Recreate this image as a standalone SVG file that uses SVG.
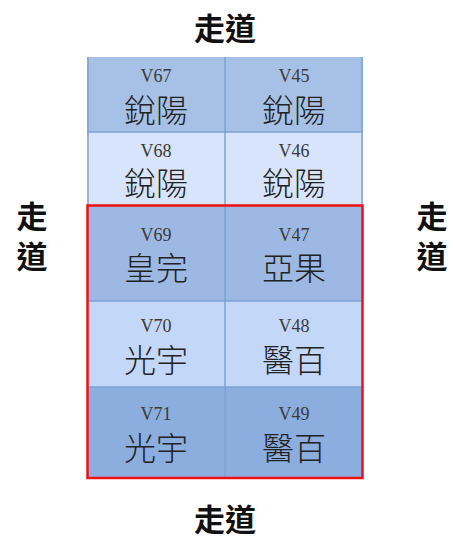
<svg xmlns="http://www.w3.org/2000/svg" width="453" height="540" viewBox="0 0 453 540">
<style>
.lbl{font-family:"Liberation Serif","Noto Sans CJK TC",serif;font-size:18px;fill:#3a3a3a;text-anchor:middle}
.nm{font-family:"Noto Sans CJK TC",sans-serif;font-size:32px;fill:#222;text-anchor:middle;font-weight:300}
.aisle{font-family:"Noto Sans CJK TC",sans-serif;font-size:31px;fill:#111;text-anchor:middle;font-weight:bold}
.sep{stroke:#7ea2d4;stroke-width:1.5}
</style>
<rect width="453" height="540" fill="#fff"/>
<g id="aisle-top"><text class="aisle" x="225" y="40">走道</text></g>
<g id="aisle-bottom"><text class="aisle" x="225" y="531">走道</text></g>
<g id="aisle-left"><text class="aisle" x="32" y="228">走</text><text class="aisle" x="32" y="268">道</text></g>
<g id="aisle-right"><text class="aisle" x="432" y="228">走</text><text class="aisle" x="432" y="268">道</text></g>
<g id="rows">
<rect x="87" y="57" width="276" height="75" fill="#a6c0e6"/>
<rect x="87" y="132" width="276" height="73" fill="#d7e4fb"/>
<rect x="87" y="205" width="276" height="96" fill="#9db9e3"/>
<rect x="87" y="301" width="276" height="86" fill="#c3d7f9"/>
<rect x="87" y="387" width="276" height="91" fill="#8caedf"/>
<line class="sep" x1="87" y1="132" x2="363" y2="132"/>
<line class="sep" x1="87" y1="301" x2="363" y2="301"/>
<line class="sep" x1="87" y1="387" x2="363" y2="387"/>
<line class="sep" x1="225" y1="57" x2="225" y2="478"/>
<line class="sep" x1="88" y1="57" x2="88" y2="205"/>
<line class="sep" x1="362" y1="57" x2="362" y2="205"/>
</g>
<g id="V67"><text class="lbl" x="156" y="82">V67</text><text class="nm" x="156" y="122">銳陽</text></g>
<g id="V45"><text class="lbl" x="294" y="82">V45</text><text class="nm" x="294" y="122">銳陽</text></g>
<g id="V68"><text class="lbl" x="156" y="157">V68</text><text class="nm" x="156" y="195">銳陽</text></g>
<g id="V46"><text class="lbl" x="294" y="157">V46</text><text class="nm" x="294" y="195">銳陽</text></g>
<g id="V69"><text class="lbl" x="156" y="241">V69</text><text class="nm" x="156" y="280">皇完</text></g>
<g id="V47"><text class="lbl" x="294" y="241">V47</text><text class="nm" x="294" y="280">亞果</text></g>
<g id="V70"><text class="lbl" x="156" y="332">V70</text><text class="nm" x="156" y="372">光宇</text></g>
<g id="V48"><text class="lbl" x="294" y="332">V48</text><text class="nm" x="294" y="372">醫百</text></g>
<g id="V71"><text class="lbl" x="156" y="420">V71</text><text class="nm" x="156" y="460">光宇</text></g>
<g id="V49"><text class="lbl" x="294" y="420">V49</text><text class="nm" x="294" y="460">醫百</text></g>
<g id="highlight"><rect x="87.5" y="205.5" width="275" height="272.5" fill="none" stroke="#ee1111" stroke-width="2.5"/></g>
</svg>
